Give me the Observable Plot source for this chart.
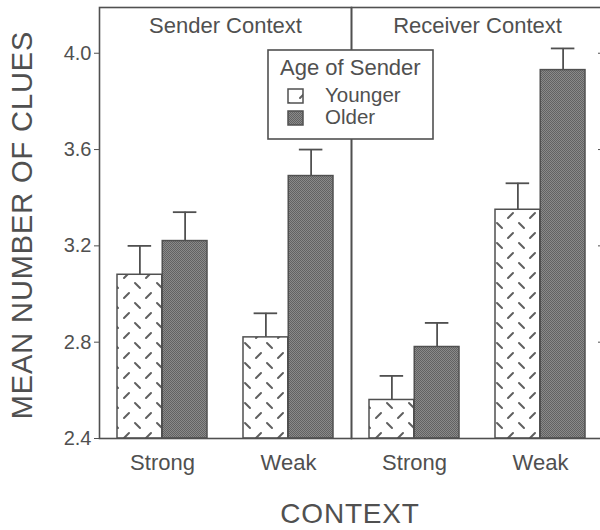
<!DOCTYPE html>
<html><head><meta charset="utf-8">
<script src="https://cdn.jsdelivr.net/npm/d3@7"></script>
<script src="https://cdn.jsdelivr.net/npm/@observablehq/plot@0.6"></script>
<style>
html,body{margin:0;padding:0;background:#fff;overflow:hidden;width:600px;height:530px}
#chart{width:605px}
#chart svg{display:block;max-width:none !important}
</style></head><body><div id="chart"></div>
<script>
// ---- data ----
const panels = ["Sender Context", "Receiver Context"];
const contexts = ["Strong", "Weak"];
const ages = ["Younger", "Older"];
const groupPanel = ["Sender Context", "Sender Context", "Receiver Context", "Receiver Context"];
const groupContext = ["Strong", "Weak", "Strong", "Weak"];
const meanYounger = [3.08, 2.82, 2.56, 3.35];
const meanOlder = [3.22, 3.49, 2.78, 3.93];
const seYounger = [0.12, 0.10, 0.10, 0.11];
const seOlder = [0.12, 0.11, 0.10, 0.09];
const yTicks = [2.4, 2.8, 3.2, 3.6, 4.0];
const yBase = 2.4, yTop = 4.19;
const yLabel = "MEAN NUMBER OF CLUES";
const xLabel = "CONTEXT";
const legendTitle = "Age of Sender";

const rows = [];
groupPanel.forEach((p, i) => {
  rows.push({panel: p, context: groupContext[i], age: ages[0], mean: meanYounger[i], se: seYounger[i]});
  rows.push({panel: p, context: groupContext[i], age: ages[1], mean: meanOlder[i], se: seOlder[i]});
});
const younger = rows.filter(d => d.age === ages[0]);
const older = rows.filter(d => d.age === ages[1]);

// ---- layout ----
const W = 605, H = 530, mL = 99, mR = 2, mT = 7, mB = 92;
const pI = 0.283, pO = 0.14;
const facetW = (W - mL - mR) / panels.length;
const step = facetW / (contexts.length - pI + 2 * pO);
const bw = step * (1 - pI);
const half = bw / 2;
const capW = 24;
const ink = "#505050";
const font = "'Liberation Sans', Arial, sans-serif";

const barMarks = (data, sign, fill) => [
  Plot.barY(data, {fx: "panel", x: "context", y1: () => yBase, y2: "mean",
    insetLeft: sign > 0 ? half : 0, insetRight: sign < 0 ? half : 0,
    fill, stroke: ink, strokeWidth: 1.5}),
  Plot.ruleX(data, {fx: "panel", x: "context", y1: "mean", y2: d => d.mean + d.se,
    dx: sign * half / 2, stroke: ink, strokeWidth: 1.8}),
  Plot.tickY(data, {fx: "panel", x: "context", y: d => d.mean + d.se,
    dx: sign * half / 2, insetLeft: (bw - capW) / 2, insetRight: (bw - capW) / 2,
    stroke: ink, strokeWidth: 1.8})
];

const plot = Plot.plot({
  width: W, height: H,
  marginLeft: mL, marginRight: mR, marginTop: mT, marginBottom: mB,
  style: {fontFamily: font, color: ink, background: "white", fontSize: "20px"},
  fx: {domain: panels, padding: 0, axis: null},
  x: {domain: contexts, paddingInner: pI, paddingOuter: pO},
  y: {domain: [yBase, yTop]},
  marks: [
    ...barMarks(younger, -1, "url(#hatch)"),
    ...barMarks(older, 1, "url(#stipple)"),
    Plot.frame({stroke: ink, strokeWidth: 1.6}),
    Plot.text(panels, {fx: d => d, text: d => d, frameAnchor: "top", dy: 10,
      fontSize: 22, fill: ink}),
    Plot.axisY({anchor: "left", ticks: yTicks, tickFormat: d3.format(".1f"),
      tickSize: 5, tickPadding: 3, label: null, fontSize: 20, stroke: ink}),
    Plot.axisY({anchor: "right", ticks: yTicks, tickFormat: () => "",
      tickSize: -6, label: null, stroke: ink}),
    Plot.axisX({tickSize: 0, tickPadding: 16, label: null, fontSize: 22})
  ]
});

document.getElementById("chart").appendChild(plot);

// ---- patterns, labels, legend ----
const svg = d3.select(plot);
const defs = svg.insert("defs", ":first-child");
const hatch = defs.append("pattern").attr("id", "hatch")
  .attr("width", 22).attr("height", 20).attr("patternUnits", "userSpaceOnUse");
hatch.append("rect").attr("width", 22).attr("height", 20).attr("fill", "white");
hatch.append("path").attr("d", "M3,3L8,8M14,18L19,13")
  .attr("stroke", "#606060").attr("stroke-width", 2).attr("stroke-linecap", "round");
const stip = defs.append("pattern").attr("id", "stipple")
  .attr("width", 2).attr("height", 2).attr("patternUnits", "userSpaceOnUse");
stip.append("rect").attr("width", 2).attr("height", 2).attr("fill", "#8a8a8a");
stip.append("rect").attr("width", 1).attr("height", 1).attr("fill", "#626262");
stip.append("rect").attr("x", 1).attr("y", 1).attr("width", 1).attr("height", 1).attr("fill", "#626262");

svg.append("text").attr("transform", "translate(32,225) rotate(-90)")
  .attr("text-anchor", "middle").attr("font-size", 29).attr("letter-spacing", 0.9)
  .attr("fill", ink).attr("font-family", font).text(yLabel);
svg.append("text").attr("x", 350).attr("y", 523)
  .attr("text-anchor", "middle").attr("font-size", 28).attr("letter-spacing", 0.8)
  .attr("fill", ink).attr("font-family", font).text(xLabel);

const lg = svg.append("g").attr("font-family", font).attr("fill", ink).attr("text-anchor", "start");
lg.append("rect").attr("x", 268).attr("y", 50).attr("width", 165).attr("height", 89)
  .attr("fill", "white").attr("stroke", ink).attr("stroke-width", 1.6);
lg.append("text").attr("x", 280).attr("y", 75).attr("font-size", 22).text(legendTitle);
const sw = [["url(#hatch)", 89, 102], ["url(#stipple)", 111, 124]];
ages.forEach((a, i) => {
  lg.append("rect").attr("x", 288).attr("y", sw[i][1]).attr("width", 15).attr("height", 14)
    .attr("fill", sw[i][0]).attr("stroke", ink).attr("stroke-width", 1.5);
  lg.append("text").attr("x", 325).attr("y", sw[i][2]).attr("font-size", 20.5).text(a);
});
</script></body></html>
